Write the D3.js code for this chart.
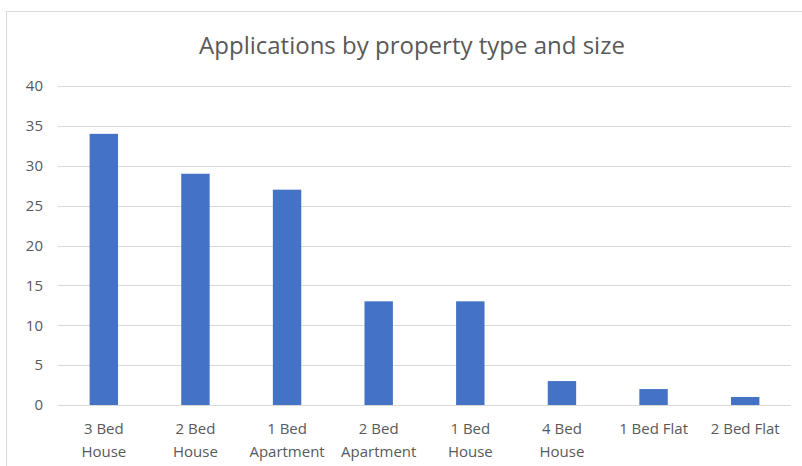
<!DOCTYPE html>
<html>
<head>
<meta charset="utf-8">
<script src="https://cdn.jsdelivr.net/npm/d3@7"></script>
<style>
  body { margin: 0; background: #fff; }
  svg text { font-family: 'Open Sans', sans-serif; }
</style>
</head>
<body>
<div id="chart"></div>
<script>
const categories = [
  ['3 Bed', 'House'],
  ['2 Bed', 'House'],
  ['1 Bed', 'Apartment'],
  ['2 Bed', 'Apartment'],
  ['1 Bed', 'House'],
  ['4 Bed', 'House'],
  ['1 Bed Flat'],
  ['2 Bed Flat']
]
const values = [34, 29, 27, 13, 13, 3, 2, 1]
const yTicks = [0, 5, 10, 15, 20, 25, 30, 35, 40]
const title = 'Applications by property type and size'

const W = 802
const H = 466
const margin = { top: 86, right: 11, bottom: 61, left: 58 }
const width = W - margin.left - margin.right
const height = H - margin.top - margin.bottom

const svg = d3.select('#chart')
  .append('svg')
  .attr('width', W)
  .attr('height', H)

// outer chart border
svg.append('rect')
  .attr('x', 6.5)
  .attr('y', 11.5)
  .attr('width', W)
  .attr('height', H)
  .attr('fill', '#fff')
  .attr('stroke', '#d9d9d9')

svg.append('text')
  .attr('x', 412)
  .attr('y', 54)
  .attr('text-anchor', 'middle')
  .style('font-size', '24px')
  .style('fill', '#595959')
  .text(title)

const g = svg.append('g')
  .attr('transform', `translate(${margin.left},${margin.top})`)

const labels = categories.map(c => c.join(' '))

const x = d3.scaleBand()
  .domain(labels)
  .range([0, width])
  .paddingInner(0.69)
  .paddingOuter(0.345)

const y = d3.scaleLinear()
  .domain([0, 40])
  .range([height, 0])

// gridlines
g.append('g')
  .selectAll('line')
  .data(yTicks)
  .enter()
  .append('line')
  .attr('x1', 0)
  .attr('x2', width)
  .attr('y1', d => Math.round(y(d)) + 0.5)
  .attr('y2', d => Math.round(y(d)) + 0.5)
  .attr('stroke', '#d9d9d9')
  .attr('stroke-width', 1)

// y axis labels
const yAxis = g.append('g')
  .call(d3.axisLeft(y).tickValues(yTicks).tickSize(0).tickPadding(15))
yAxis.select('.domain').remove()
yAxis.selectAll('text')
  .style('font-size', '15px')
  .style('fill', '#595959')

// bars
g.selectAll('rect.bar')
  .data(values)
  .enter()
  .append('rect')
  .attr('class', 'bar')
  .attr('x', (d, i) => x(labels[i]))
  .attr('y', d => y(d))
  .attr('width', x.bandwidth())
  .attr('height', d => y(0) - y(d))
  .attr('fill', '#4472c4')

// x axis labels
const xAxis = g.append('g')
  .attr('transform', `translate(0,${height})`)
  .call(d3.axisBottom(x).tickSize(0).tickFormat(''))
xAxis.select('.domain').remove()

xAxis.selectAll('.tick')
  .each(function (d, i) {
    const t = d3.select(this).append('text')
      .attr('text-anchor', 'middle')
      .style('font-size', '15px')
      .style('fill', '#595959')
    categories[i].forEach((line, j) => {
      t.append('tspan')
        .attr('x', 0)
        .attr('y', 29 + j * 23)
        .text(line)
    })
  })
</script>
</body>
</html>
